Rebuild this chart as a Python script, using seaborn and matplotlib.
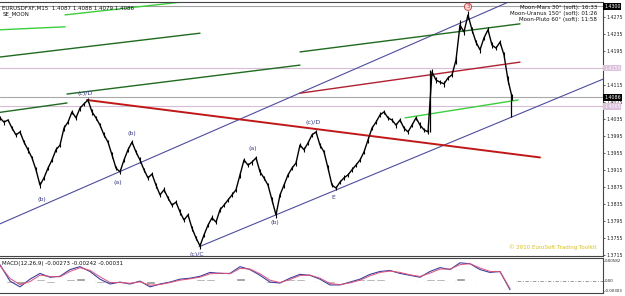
import numpy as np
import matplotlib
matplotlib.use("Agg")
import matplotlib.pyplot as plt
import seaborn as sns

# price closes, one every 4 bars (M15)
step = 4
close = [1.4038, 1.4028, 1.4033, 1.4014, 1.3998, 1.4005, 1.3981, 1.3963, 1.3944, 1.3916,
         1.3880, 1.3897, 1.3920, 1.3939, 1.3963, 1.3974, 1.4014, 1.4028, 1.4052, 1.4038,
         1.4061, 1.4071, 1.4080, 1.4052, 1.4038, 1.4021, 1.3998, 1.3981, 1.3951, 1.3920,
         1.3911, 1.3939, 1.3963, 1.3981, 1.3958, 1.3939, 1.3916, 1.3897, 1.3906, 1.3880,
         1.3857, 1.3869, 1.3850, 1.3833, 1.3840, 1.3817, 1.3798, 1.3810, 1.3779, 1.3756,
         1.3737, 1.3763, 1.3786, 1.3803, 1.3793, 1.3822, 1.3833, 1.3845, 1.3857, 1.3869,
         1.3904, 1.3939, 1.3927, 1.3934, 1.3944, 1.3911, 1.3897, 1.3880, 1.3845, 1.3810,
         1.3857, 1.3880, 1.3904, 1.3920, 1.3932, 1.3974, 1.3963, 1.3979, 1.3998, 1.4005,
         1.3974, 1.3958, 1.3920, 1.3880, 1.3873, 1.3887, 1.3897, 1.3904, 1.3916, 1.3927,
         1.3939, 1.3958, 1.3986, 1.4014, 1.4028, 1.4045, 1.4052, 1.4038, 1.4033, 1.4021,
         1.4033, 1.4014, 1.4005, 1.4021, 1.4038, 1.4021, 1.4010, 1.4005, 1.4146, 1.4127,
         1.4122, 1.4118, 1.4132, 1.4139, 1.4174, 1.4256, 1.4240, 1.4280, 1.4245, 1.4216,
         1.4198, 1.4226, 1.4245, 1.4209, 1.4202, 1.4216, 1.4186, 1.4127, 1.4087]
# high-low range of each 4-bar block, in pips
rng_pips = [8, 12, 7, 10, 9, 11, 8, 13, 10, 12,
            14, 9, 11, 8, 12, 10, 13, 9, 11, 10,
            12, 9, 10, 14, 8, 11, 12, 9, 13, 10,
            11, 9, 12, 8, 10, 13, 9, 11, 8, 12,
            10, 12, 9, 11, 8, 13, 10, 9, 12, 11,
            14, 10, 9, 12, 8, 11, 10, 9, 12, 10,
            13, 11, 9, 12, 10, 14, 9, 11, 12, 13,
            10, 12, 9, 11, 13, 10, 12, 9, 11, 10,
            12, 9, 13, 11, 10, 9, 12, 8, 11, 10,
            9, 12, 13, 11, 10, 12, 9, 11, 8, 12,
            10, 12, 9, 11, 10, 13, 9, 12, 14, 12,
            11, 13, 10, 12, 18, 22, 16, 20, 14, 12,
            13, 11, 12, 14, 10, 12, 15, 18, 14]
bars = np.arange(len(close)) * step

# a few long wicks: bar, low, high
wick_bar = [430, 511]
wick_low = [1.4005, 1.4040]
wick_high = [1.4150, 1.4092]

# trendlines: start bar/price, end bar/price, colour, width
tl_x0 = [0, 199, 87, 300, 300, 405, 0, 65, 0, 67, 0]
tl_p0 = [1.3789, 1.3735, 1.4080, 1.4096, 1.4193, 1.4038, 1.4245, 1.4280, 1.4051, 1.4094, 1.4181]
tl_x1 = [520, 603, 540, 520, 520, 518, 65, 200, 67, 300, 200]
tl_p1 = [1.4322, 1.4129, 1.3945, 1.4169, 1.4259, 1.4080, 1.4252, 1.4315, 1.4073, 1.4162, 1.4237]
tl_col = ["#4c4ca6", "#4c4ca6", "#c01818", "#b02030", "#1f6b1f", "#3ccf3c",
          "#3ccf3c", "#3ccf3c", "#1f6b1f", "#1f6b1f", "#1f6b1f"]
tl_lw = [0.8, 0.8, 1.4, 1.0, 1.0, 1.0, 1.0, 1.0, 1.0, 1.0, 1.0]

# horizontal levels
lvl_price = [1.4300, 1.4155, 1.4086, 1.4065]
lvl_col = ["#a0a0a0", "#d8bcd8", "#a8a8a8", "#d8bcd8"]

# wave labels
wave_txt = ["(b)", "(c)/D", "(a)", "(b)", "(c)/C", "(a)", "(b)", "(c)/D", "E"]
wave_x = [42, 85, 118, 132, 197, 253, 275, 313, 333]
wave_p = [1.3845, 1.4096, 1.3885, 1.4002, 1.3718, 1.3967, 1.3791, 1.4026, 1.3850]

price_ticks = [1.4275, 1.4235, 1.4195, 1.4115, 1.4075, 1.4035, 1.3995,
               1.3955, 1.3915, 1.3875, 1.3835, 1.3795, 1.3755, 1.3715]

# MACD(12,26,9), one value every 10 bars
mstep = 10
macd = [0.00468, -0.00017, -0.00188, 0.0004, 0.00211, 0.00097, 0.00126, 0.00325, 0.00411, 0.00268,
        0.0004, -0.00103, -0.00046, -0.00103, -0.00017, -0.00188, -0.00103, -0.00046, 0.0004, 0.00069,
        0.00126, 0.0024, 0.00211, 0.00211, 0.00411, 0.00325, 0.00154, -0.00046, -0.00074, 0.00069,
        0.00183, 0.00154, 0.0004, -0.00131, -0.00131, -0.00046, 0.0004, 0.00183, 0.00268, 0.00297,
        0.00211, 0.00154, 0.00097, 0.00268, 0.00383, 0.00325, 0.00525, 0.00497, 0.00325, 0.0024,
        0.00268, -0.00273]
signal = [0.00440, 0.00060, -0.00120, -0.00030, 0.00160, 0.00120, 0.00110, 0.00270, 0.00380, 0.00300,
          0.00110, -0.00060, -0.00060, -0.00080, -0.00040, -0.00140, -0.00120, -0.00060, 0.00010, 0.00050,
          0.00100, 0.00200, 0.00220, 0.00200, 0.00360, 0.00340, 0.00200, 0.00010, -0.00060, 0.00030,
          0.00150, 0.00160, 0.00070, -0.00090, -0.00120, -0.00070, 0.00010, 0.00140, 0.00240, 0.00280,
          0.00240, 0.00170, 0.00120, 0.00220, 0.00340, 0.00340, 0.00470, 0.00500, 0.00370, 0.00270,
          0.00260, -0.00242]
hist = [0.0003, -0.0008, -0.0010, -0.0002, 0.0004, -0.0006, -0.0003, 0.0006, 0.0007, -0.0002,
        -0.0007, -0.0008, 0.0001, -0.0003, -0.0004, -0.0009, -0.0002, 0.0002, 0.0003, 0.0002,
        0.0004, 0.0006, 0.0001, 0.0002, 0.0007, 0.0002, -0.0004, -0.0008, -0.0005, 0.0004,
        0.0005, -0.0001, -0.0004, -0.0008, -0.0003, 0.0002, 0.0004, 0.0006, 0.0004, 0.0002,
        -0.0003, -0.0003, -0.0002, 0.0005, 0.0006, 0.0000, 0.0007, 0.0002, -0.0004, -0.0003,
        0.0001, -0.0003]
mbars = np.arange(len(macd)) * mstep

sns.set_style("white")
plt.rcParams["font.family"] = ["DejaVu Sans"]

W, H = 625, 296
fig = plt.figure(figsize=(W / 100, H / 100), dpi=100)
ax = fig.add_axes([0, 1 - 256 / H, 603 / W, 254 / H])
ax2 = fig.add_axes([0, 3 / H, 603 / W, 35 / H])

for p, c in zip(lvl_price, lvl_col):
    ax.axhline(p, color=c, lw=0.8, zorder=1)

for i in range(len(tl_x0)):
    ax.plot([tl_x0[i], tl_x1[i]], [tl_p0[i], tl_p1[i]], color=tl_col[i], lw=tl_lw[i], zorder=2)

half = np.array(rng_pips) * 0.00005
sns.lineplot(x=bars, y=close, ax=ax, color="black", lw=1.0, zorder=3)
ax.vlines(bars, np.array(close) - half, np.array(close) + half, color="black", lw=0.8, zorder=3)
ax.vlines(wick_bar, wick_low, wick_high, color="black", lw=0.9, zorder=3)

for t, x, p in zip(wave_txt, wave_x, wave_p):
    ax.text(x, p, t, color="#3a3a8c", fontsize=4.5, ha="center", va="center", zorder=4)

ax.text(468, 1.4299, "3", color="#d03030", fontsize=4, ha="center", va="center",
        bbox=dict(boxstyle="circle,pad=0.2", fc="#f6dada", ec="#d03030", lw=0.6), zorder=5)

ax.set_xlim(0, 603)
ax.set_ylim(1.37134, 1.43103)
ax.yaxis.tick_right()
ax.set_yticks(price_ticks)
ax.set_yticklabels([f"{v:.4f}" for v in price_ticks])
ax.tick_params(axis="y", labelsize=3.4, length=1.5, width=0.5, pad=1, colors="#222222")
ax.set_xticks([])
ax.set_xlabel("")
ax.set_ylabel("")
for s in ["top", "bottom", "right"]:
    ax.spines[s].set_color("#444444")
    ax.spines[s].set_linewidth(0.8)
ax.spines["left"].set_visible(False)

# boxed price labels on the right scale
box_price = [1.4300, 1.4155, 1.4086, 1.4065]
box_fc = ["black", "#dcc0dc", "black", "#dcc0dc"]
for p, c in zip(box_price, box_fc):
    ax.text(1.002, p, f"{p:.4f}", transform=ax.get_yaxis_transform(), fontsize=3.4,
            color="white", va="center", ha="left",
            bbox=dict(boxstyle="square,pad=0.15", fc=c, ec="none"), zorder=6)

ax.text(0.004, 0.985, "EURUSDFXF,M15  1.4087 1.4088 1.4079 1.4086", transform=ax.transAxes,
        fontsize=4, va="top", ha="left", color="#111111")
ax.text(0.004, 0.962, "SE_MOON", transform=ax.transAxes, fontsize=4, va="top", ha="left",
        color="#111111")
aspects = ["Moon-Mars 30° (soft): 16:33", "Moon-Uranus 150° (soft): 01:26",
           "Moon-Pluto 60° (soft): 11:58"]
for i, a in enumerate(aspects):
    ax.text(0.99, 0.99 - i * 0.024, a, transform=ax.transAxes, fontsize=4, va="top", ha="right",
            color="#111111")
ax.text(0.99, 0.035, "© 2010 EuroSoft Trading Toolkit", transform=ax.transAxes, fontsize=4,
        va="center", ha="right", color="#d8c020")

# MACD panel
ax2.bar(mbars, hist, width=mstep * 0.9, color="#909090", zorder=2)
ax2.axhline(0, color="#888888", lw=0.6, ls=(0, (4, 2, 1, 2)), zorder=1)
sns.lineplot(x=mbars, y=macd, ax=ax2, color="#3c3ca8", lw=0.8, zorder=3)
sns.lineplot(x=mbars, y=signal, ax=ax2, color="#e05070", lw=0.7, zorder=3)
ax2.set_xlim(0, 603)
ax2.set_ylim(-0.0037, 0.00668)
ax2.yaxis.tick_right()
ax2.set_yticks([0.00582, 0.0, -0.00303])
ax2.set_yticklabels(["0.00582", "0.00", "-0.00303"])
ax2.tick_params(axis="y", labelsize=2.9, length=1, width=0.5, pad=0.5, colors="#222222")
ax2.set_xticks([])
ax2.set_xlabel("")
ax2.set_ylabel("")
for s in ["top", "bottom", "right"]:
    ax2.spines[s].set_color("#444444")
    ax2.spines[s].set_linewidth(0.8)
ax2.spines["left"].set_visible(False)
ax2.text(0.004, 0.9, "MACD(12,26,9) -0.00273 -0.00242 -0.00031", transform=ax2.transAxes,
         fontsize=4, va="top", ha="left", color="#111111")

fig.savefig("out.png", dpi=100)
